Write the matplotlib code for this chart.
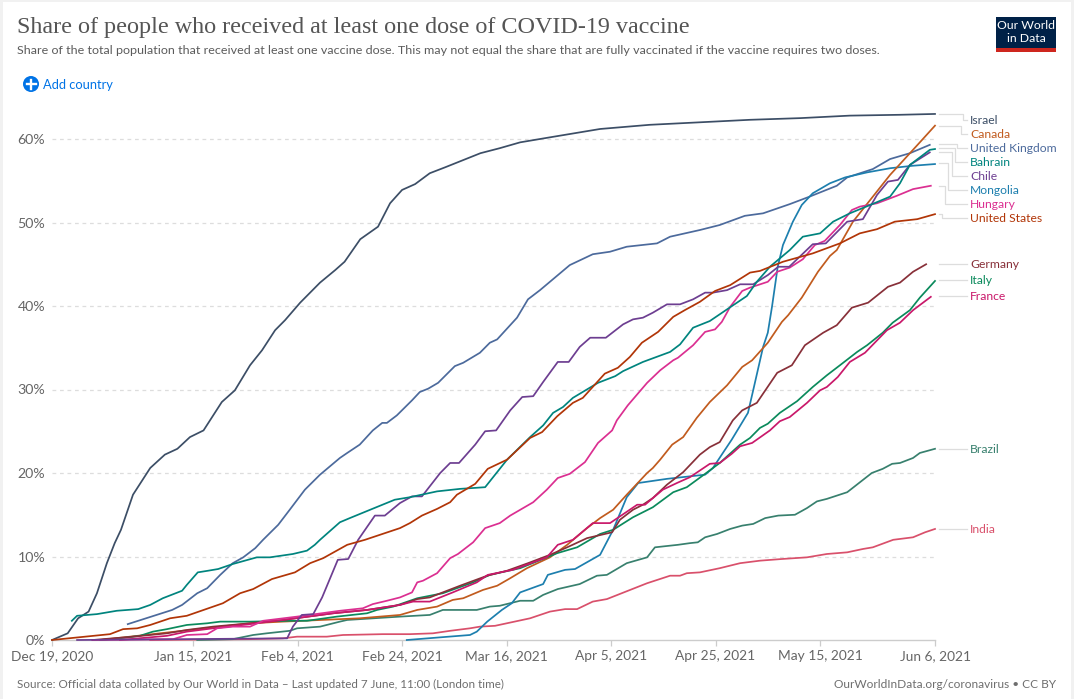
import pandas as pd
import matplotlib
matplotlib.use("Agg")
import matplotlib.pyplot as plt
from matplotlib.lines import Line2D
from matplotlib.patches import Rectangle, Circle

START = pd.Timestamp("2020-12-19")

israel_days = [0,3,5,7,8.6,10.5,12,13.2,15.5,18.8,21.6,24,26.4,29,32.5,35,37.9,40.2,42.7,44.6,47.5,51.3,54.2,56,59,62.4,64.7,67,69.5,72.3,75.2,78,82,85.7,89.6,95.3,104.9,114.4,124,133.6,143.2,152.7,162.3,169]
israel_vals = [0,0.8,2.6,3.4,5.6,9.2,11.6,13.2,17.4,20.6,22.2,22.9,24.3,25.1,28.5,29.9,32.9,34.7,37.1,38.3,40.4,42.8,44.3,45.3,48.0,49.5,52.3,53.9,54.6,55.9,56.6,57.3,58.3,58.9,59.6,60.2,61.2,61.7,62.0,62.3,62.5,62.8,62.9,63]

uk_days = [14.5,23,24.9,27.8,29.7,32.2,34.6,36.6,38.9,40.4,43.3,45.5,48.4,51.3,55.1,56.5,58.9,61.4,63.2,64.1,66,68.9,70.4,72,73.9,77.1,78.7,81.9,83.8,85.2,89,91.1,93.4,95.3,99.1,103.5,106.8,110,115.8,118.3,124,127.8,132.6,136.1,141.2,145,150.2,152.2,157.1,160.4,164.2,168]
uk_vals = [1.9,3.6,4.2,5.6,6.2,7.8,9.2,9.9,11,12,13.8,15.6,18,19.8,21.8,22.4,23.4,25.1,26,26,26.9,28.7,29.7,30.1,30.8,32.8,33.2,34.4,35.6,36,38.6,40.8,41.9,42.9,44.9,46.2,46.5,47.1,47.5,48.3,49.1,49.7,50.8,51.1,52.2,53.1,54.4,55.4,56.4,57.6,58.3,59.3]

bahrain_days = [3.8,4.8,8.6,12.4,16.5,18.8,21.2,24.9,25.8,27.9,29.9,31.8,34.6,39.2,41.7,46.1,48.8,50.3,51.3,55.1,57,60.9,65.6,68.5,73.7,78.1,82.9,87.1,91.5,94,95.9,97.8,99.7,104.5,107.8,109.3,113.1,118.3,120.2,122.7,125.9,129.2,133,134.9,137.4,141.2,143.7,147,149.5,152.7,156.6,160.4,162.3,164.2,168,169]
bahrain_vals = [2.3,2.9,3.1,3.5,3.7,4.2,5,5.9,6.6,8.1,8.3,8.5,9.1,9.9,9.9,10.3,10.7,11.4,12,14.1,14.6,15.6,16.8,17.1,17.8,18.1,18.3,21.6,24.3,25.7,27.2,27.9,29,30.8,31.6,32.2,33.3,34.5,35.4,37.4,38.2,39.6,41.2,42.9,44.7,46.7,48.3,48.7,50.1,51.1,52.1,53.1,54.7,56.9,58.7,58.8]

usa_days = [0,11.1,13.6,16.3,18.8,22.6,25.8,32.7,36,38.5,42.1,46.5,49.4,51.9,56.5,59.9,66.6,68.5,70.8,73.7,76.2,77.5,81,83.4,87.1,91.5,93.8,96.7,99.7,101.6,105.8,108.3,110.6,112.9,116,118.9,121.1,124,126.9,129.8,133.6,135.5,139.9,145.6,150.8,154.6,157.9,161.3,165.6,169]
usa_vals = [0,0.7,1.3,1.4,1.8,2.6,2.9,4.4,5.6,6.1,7.3,8.1,9.2,9.8,11.4,12,13.4,14,14.9,15.7,16.5,17.4,18.7,20.5,21.6,24.2,24.9,26.8,28.4,29,31.9,32.6,33.9,35.6,36.9,38.7,39.5,40.5,41.8,42.5,44,44.2,45.3,46.3,47.5,48.7,49.2,50.1,50.4,51]

chile_days = [4.8,45,46.1,47.8,50,51.7,54.7,56.7,58.6,61.8,63.7,66.6,68.9,70.8,74.3,76.2,77.9,81,82.9,85,87.7,90,92.1,94,96.8,98.9,101,103,106,109.3,111.2,113.1,115,117.7,120.2,122.7,125,126.5,129.2,131.7,134.2,137,139,141.1,145.6,148.1,152.2,155.2,157.9,160,161.9,164.2,168]
chile_vals = [0,0.2,1.6,3,3.1,5.1,9.6,9.7,12,14.9,14.9,16.4,17.2,17.2,20,21.2,21.2,23.4,25,25.1,27.5,29.1,29.2,30.9,33.3,33.3,35.1,36.2,36.2,37.8,38.4,38.6,39.2,40.2,40.2,40.8,41.6,41.6,41.9,42.6,42.6,43.7,44.7,44.7,47.4,47.5,50.1,50.4,53.3,54.9,55.1,56.9,58.4]

hungary_days = [7.7,23.2,25.8,29.7,31.6,34.6,37.9,40.4,46.9,55.1,59.5,61.4,64.1,66.6,68.9,69.9,71,73.7,76.2,77.7,80.6,82.9,85.7,87.7,92.1,94.7,96.8,99.1,102,104.5,107.2,108.1,110.2,113.9,116.4,118.9,119.8,122.7,125,126.9,128.2,129.8,132.1,133.6,137,138.8,141.2,143.7,146,147.9,150.8,153.1,154.6,157.9,161.7,164.8,168.2]
hungary_vals = [0,0.1,0.6,0.7,1.4,1.6,1.6,2.3,2.8,3.5,3.8,4.3,4.7,5.1,5.7,6.9,7.1,8,9.8,10.3,11.7,13.4,14,14.9,16.5,18,19.4,19.9,21.3,23.6,25.1,26.3,28.1,30.8,32.3,33.5,33.8,35.3,36.9,37.2,38.1,39.9,41.8,42.2,42.9,44.1,44.6,45.6,47.3,47.8,49.7,51.5,51.9,52.3,53.2,54,54.4]

canada_days = [9.2,26.4,37.9,44.2,58.9,66.6,69.9,73.7,76.7,78.7,82.5,85.2,87.7,90.9,95.3,98.6,102.4,104.9,107.4,110,113.9,115,116.4,118.7,120.8,123.4,125.9,129.2,132.1,134,137,139.7,140.9,143.5,146.6,148.9,150.2,153.3,156.6,160.4,166.1,169]
canada_vals = [0,1.2,2,2.2,2.6,3,3.6,4,4.8,5,6,6.5,7.4,8.6,9.9,11.4,13.4,14.6,15.6,17.4,20,20.6,21.6,23.4,24.3,26.6,28.5,30.5,32.7,33.5,35.6,38.1,38.9,41,44.1,46,46.7,50.1,52.7,55.7,59.6,61.6]

germany_days = [7.8,15.5,22,25.8,30.8,37.9,44.2,53.8,60.3,66.6,69.9,72.3,78.1,83.3,87.1,91.1,95.3,98.6,102.4,107.2,108.7,111.2,113.1,115,117.7,120.8,124,125.9,127.8,130.3,132.1,134.9,138.8,141.6,144.1,147.6,150.2,153.1,156.2,160,162.3,164.8,167.3]
germany_vals = [0,0.4,0.8,1.2,1.6,2,2.4,3.2,3.6,4.2,4.9,5.1,6.5,7.7,8.3,9.2,10.2,11.1,12.2,12.9,14.4,15.6,16.2,17,18.6,20.1,22.2,23.1,23.7,26.3,27.5,28.4,32,32.9,35.3,36.8,37.7,39.8,40.4,42.3,42.8,44.1,45]

italy_days = [9.2,13,16.8,19.3,22,25.8,29.7,32.2,37.9,45.5,48.8,54.5,60.3,62.2,65.3,69.9,74.8,80.6,83.8,89.6,96.7,100.5,104.9,107.4,111.2,115,118.9,121.5,125,127.8,131.7,133.6,135.5,137,139.3,142.6,145.6,148.3,150.8,154.1,156,159,160.9,164.2,166.1,169]
italy_vals = [0,0.2,0.5,1,1.3,1.8,2,2.2,2.2,2.3,2.3,2.8,3.2,3.6,4,5,5.6,6.9,7.8,8.6,10.4,11.1,12.7,13.2,14.7,15.9,17.7,18.3,19.9,21.2,23.4,24.2,25.4,25.9,27.2,28.6,30.3,31.7,32.9,34.5,35.3,36.8,38,39.5,41,43]

france_days = [13,22,25.8,30.8,37.9,44.2,53.8,60.3,66.6,69.1,72.3,76.7,81.3,83.4,88.2,92.1,94.7,96.8,99.7,103.5,106.8,112,113.5,116.9,119.6,122.1,125.9,127.8,130.1,131.7,134,137.4,139.3,141.2,144.5,147,148.3,150.4,152.7,155.6,159.8,162.3,164.8,168.2]
france_vals = [0,0.5,1,1.4,1.9,2.4,3.2,3.6,4.2,4.6,4.6,5.7,6.9,7.8,8.4,9.3,9.9,11.4,12,14,14,16.2,16.2,18,18.8,19.5,21.1,21.2,22.3,23.2,23.6,25.1,26.2,26.7,28.4,29.9,30.3,31.5,33.3,34.4,37.1,38,39.5,41.1]

mongolia_days = [67.9,80,81.3,83.3,86.1,88,89.6,94,94.9,98.2,100.1,104.9,107.4,110,112.2,117.7,122.1,125,126.5,128.4,130.1,133.2,134.2,136.1,137,137.8,138.9,139.9,141.8,143.5,145.6,148.9,151.8,156,160.4,164.8,169]
mongolia_vals = [0,0.6,1,2.2,3.6,4.4,5.7,6.7,7.8,8.4,8.5,10.2,13.2,17.1,18.8,19.3,19.6,19.8,20.6,22.4,24,27.2,29.9,35.1,36.8,39.9,44.7,47.3,50.1,52.1,53.5,54.7,55.4,56,56.5,56.8,57]

brazil_days = [27.8,34.6,38.5,41.1,45.5,46.9,51.3,55.1,56.5,66.6,72.3,74.8,81.3,83.8,85.7,89.6,92.1,94,96.8,101,104.3,106.2,110,113.9,115.4,119.8,122.1,123.6,125,127.3,129.8,132.1,134.2,136.5,139,142.2,144.5,146.4,148.3,152.2,156.9,159,160.8,162.3,164.8,166.1,169]
brazil_vals = [0,0.1,0.6,0.8,1.1,1.4,1.6,2.2,2.4,2.8,3,3.6,3.6,4,4.1,4.7,4.7,5.4,6.1,6.7,7.7,7.8,9.2,9.9,11.1,11.4,11.6,11.7,12.3,12.7,13.3,13.7,13.9,14.6,14.9,15,15.8,16.6,16.9,17.7,20,20.5,21.1,21.2,21.8,22.4,22.9]

india_days = [18.8,37.9,44.2,46.9,52.6,55.7,63.3,68.5,72.9,76.2,80,81.9,84.8,91.5,95.3,98.2,100.5,103.5,106.2,113.9,118.3,120.2,121.5,124,127.8,131.7,135.5,139.7,144.5,148.3,152.2,155.2,157.1,161,164.8,167.1,169]
india_vals = [0,0.1,0.2,0.4,0.4,0.6,0.7,0.7,0.8,1.1,1.4,1.6,1.7,2.6,3.4,3.7,3.7,4.6,4.9,6.8,7.7,7.7,8,8.1,8.6,9.2,9.5,9.7,9.9,10.3,10.5,10.9,11.1,12,12.3,12.9,13.3]

countries = ["Israel", "Canada", "United Kingdom", "Bahrain", "Chile", "Mongolia", "Hungary",
             "United States", "Germany", "Italy", "France", "Brazil", "India"]
tick_dates = ["2020-12-19", "2021-01-15", "2021-02-04", "2021-02-24", "2021-03-16",
              "2021-04-05", "2021-04-25", "2021-05-15", "2021-06-06"]
tick_labels = ["Dec 19, 2020", "Jan 15, 2021", "Feb 4, 2021", "Feb 24, 2021", "Mar 16, 2021",
               "Apr 5, 2021", "Apr 25, 2021", "May 15, 2021", "Jun 6, 2021"]
y_ticks = [0, 10, 20, 30, 40, 50, 60]

series = {
    "India": (india_days, india_vals, "#D9506B"),
    "Brazil": (brazil_days, brazil_vals, "#38806E"),
    "Israel": (israel_days, israel_vals, "#3C4E66"),
    "United Kingdom": (uk_days, uk_vals, "#4C6A9C"),
    "Mongolia": (mongolia_days, mongolia_vals, "#1D7FAE"),
    "Canada": (canada_days, canada_vals, "#C15B1E"),
    "Italy": (italy_days, italy_vals, "#0B8A5C"),
    "Germany": (germany_days, germany_vals, "#883039"),
    "France": (france_days, france_vals, "#C9186A"),
    "Hungary": (hungary_days, hungary_vals, "#DB2F91"),
    "Chile": (chile_days, chile_vals, "#6D3E91"),
    "Bahrain": (bahrain_days, bahrain_vals, "#00847E"),
    "United States": (usa_days, usa_vals, "#B13507"),
}

W, H = 1074, 699
plt.rcParams["font.family"] = ["Lato", "DejaVu Sans"]
fig = plt.figure(figsize=(W / 100, H / 100), dpi=100, facecolor="#F1F1F1")


def px(x, y):
    return x / W, 1 - y / H


fig.add_artist(Rectangle(px(3, 720), 1068 / W, 718 / H, transform=fig.transFigure,
                         facecolor="white", edgecolor="none", zorder=-5))

ax = fig.add_axes([52 / W, (H - 640) / H, 883 / W, 535 / H], facecolor="none")
ax.set_xlim(START, pd.Timestamp("2021-06-06"))
ax.set_ylim(0, 535 / 8.35)
for s in ["top", "right", "left"]:
    ax.spines[s].set_visible(False)
ax.spines["bottom"].set_color("#CCCCCC")
ax.spines["bottom"].set_linewidth(1.0)

for v in y_ticks[1:]:
    ax.axhline(v, color="#DDDDDD", lw=0.9, dashes=(3, 3), zorder=1)
ax.set_yticks(y_ticks)
ax.set_yticklabels([f"{v}%" for v in y_ticks], fontsize=10.2, color="#666666")
ax.tick_params(axis="y", length=0, pad=5)
ax.set_xticks([pd.Timestamp(d) for d in tick_dates])
ax.set_xticklabels(tick_labels, fontsize=9.95, color="#666666")
ax.tick_params(axis="x", length=4, width=0.9, color="#CCCCCC", pad=3)

for name, (days, vals, col) in series.items():
    xs = [START + pd.Timedelta(days=float(d)) for d in days]
    ax.plot(xs, vals, color=col, lw=1.25, solid_joinstyle="round", zorder=3, clip_on=False)

connectors = {
    "Israel": [(939, 114), (963, 114), (963, 120), (967, 120)],
    "Canada": [(939, 126), (961, 126), (961, 134), (967, 134)],
    "United Kingdom": [(939, 144), (957, 144), (957, 148), (967, 148)],
    "Bahrain": [(939, 148), (955, 148), (955, 162), (967, 162)],
    "Chile": [(939, 152), (952, 152), (952, 176), (967, 176)],
    "Mongolia": [(939, 163), (948, 163), (948, 190), (967, 190)],
    "Hungary": [(939, 186), (945, 186), (945, 204), (967, 204)],
    "United States": [(939, 214), (942, 214), (942, 218), (967, 218)],
    "Germany": [(939, 264), (967, 264)],
    "Italy": [(939, 280), (967, 280)],
    "France": [(939, 296), (967, 296)],
    "Brazil": [(939, 449), (967, 449)],
    "India": [(939, 529), (967, 529)],
}
for name in countries:
    pts = connectors[name]
    fx, fy = zip(*[px(*p) for p in pts])
    fig.add_artist(Line2D(fx, fy, transform=fig.transFigure, color="#DDDDDD", lw=0.9))
    x0, y0 = px(970, pts[-1][1] + 0.5)
    fig.text(x0, y0, name, color=series[name][2], fontsize=8.7, va="center", ha="left")

fig.text(*px(17, 28), "Share of people who received at least one dose of COVID-19 vaccine",
         family="Liberation Serif", fontsize=17.4, color="#555555", va="center", ha="left")
fig.text(*px(17, 50),
         "Share of the total population that received at least one vaccine dose. "
         "This may not equal the share that are fully vaccinated if the vaccine requires two doses.",
         fontsize=8.97, color="#5B5B5B", va="center", ha="left")

# "Add country" control
overlay = fig.add_axes([0, 0, 1, 1], facecolor="none")
overlay.set_xlim(0, W)
overlay.set_ylim(H, 0)
overlay.axis("off")
overlay.add_patch(Circle((31, 84), 8, facecolor="#0073E6", edgecolor="none"))
overlay.plot([26.5, 35.5], [84, 84], color="white", lw=1.7)
overlay.plot([31, 31], [79.5, 88.5], color="white", lw=1.7)
overlay.text(43, 85, "Add country", color="#0073E6", fontsize=9.3, va="center", ha="left")

# Logo
overlay.add_patch(Rectangle((996, 17), 60, 35, facecolor="#002147", edgecolor="none"))
overlay.add_patch(Rectangle((996, 48), 60, 4, facecolor="#CE261E", edgecolor="none"))
overlay.text(1026, 25.5, "Our World", color="white", fontsize=8.8, va="center", ha="center")
overlay.text(1026, 39, "in Data", color="white", fontsize=8.8, va="center", ha="center")

fig.text(*px(17, 684), "Source: Official data collated by Our World in Data – Last updated 7 June, 11:00 (London time)",
         fontsize=8.38, color="#6E6E6E", va="center", ha="left")
fig.text(*px(1056, 684), "OurWorldInData.org/coronavirus • CC BY",
         fontsize=8.6, color="#6E6E6E", va="center", ha="right")

fig.savefig("out.png", dpi=100, facecolor=fig.get_facecolor())
